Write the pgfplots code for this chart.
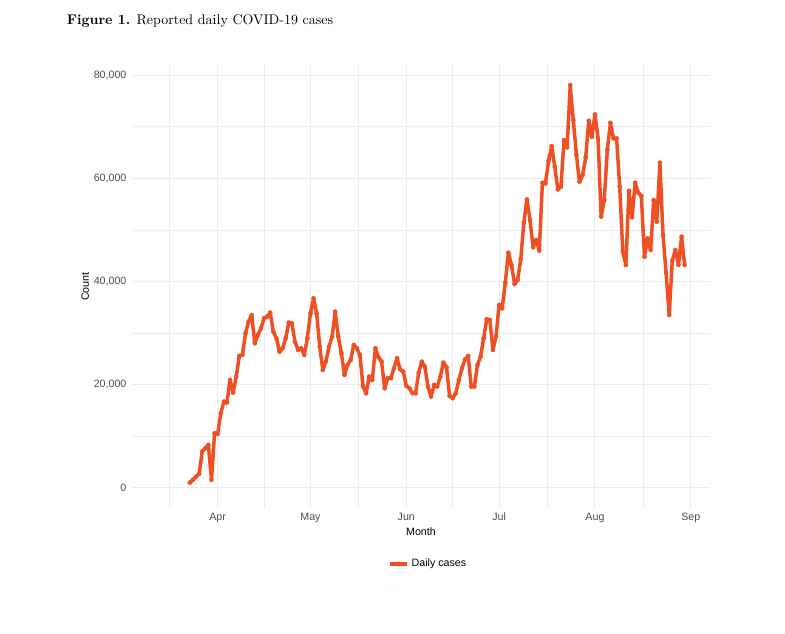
\documentclass[border=0pt]{standalone}
\usepackage{fontspec}
\usepackage{pgfplots}
\pgfplotsset{compat=1.18}
\newfontfamily\chartfont{Liberation Sans}
\definecolor{covid}{RGB}{240,78,35}
\definecolor{gridgrey}{RGB}{235,235,235}
\definecolor{ticktext}{RGB}{77,77,77}

\begin{document}
\begin{tikzpicture}
% page = 785 x 634 px at 0.75pt per px
\useasboundingbox (0,0) rectangle (588.75pt,475.5pt);
\node[anchor=base west, inner sep=0pt, font=\fontsize{10.5}{12}\selectfont]
  at (50pt,456.75pt) {\textbf{Figure 1.} Reported daily COVID-19 cases};

\begin{axis}[
  at={(99pt,94.5pt)}, anchor=south west,
  scale only axis, width=433.5pt, height=332.25pt,
  xmin=63.3, xmax=250.2, ymin=-3900, ymax=81960,
  axis line style={draw=none},
  major tick length=0pt, minor tick length=0pt,
  xtick={91,121,152,182,213,244},
  xticklabels={Apr,May,Jun,Jul,Aug,Sep},
  minor xtick={75.5,106,136.5,167,197.5,228.5},
  ytick={0,20000,40000,60000,80000},
  yticklabels={0,{20,000},{40,000},{60,000},{80,000}},
  minor ytick={10000,30000,50000,70000},
  scaled y ticks=false,
  grid=both,
  major grid style={gridgrey, line width=0.7pt},
  minor grid style={gridgrey, line width=0.4pt},
  ticklabel style={font=\chartfont\fontsize{8}{9.6}\selectfont, text=ticktext},
  xticklabel style={anchor=north, inner sep=0pt, yshift=-3.75pt},
  yticklabel style={anchor=east, inner sep=0pt, xshift=-4pt},
  xlabel={Month}, ylabel={Count},
  label style={font=\chartfont\fontsize{8}{9.6}\selectfont, text=black},
  x label style={at={(axis description cs:0.5,-0.045)}, anchor=north, inner sep=0pt},
  y label style={at={(axis description cs:-0.0738,0.5)}, anchor=south, inner sep=0pt},
  legend style={at={(axis description cs:0.513,-0.126)}, anchor=center,
    draw=none, fill=none, font=\chartfont\fontsize{8}{9.6}\selectfont,
    inner sep=0pt},
  legend image code/.code={%
    \draw[mark repeat=2,mark phase=2,#1] plot coordinates {(0pt,0pt) (6.5pt,0pt) (13pt,0pt)};},
]
\addplot[color=covid, line width=2.6pt, line join=round,
  mark=*, mark size=1.6pt, mark options={solid, fill=covid, draw=covid, line width=0.2pt}]
  table[row sep=\\] {
x y \\
82 1027 \\ 83 1550 \\ 84 2190 \\ 85 2700 \\ 86 7030 \\ 87 7690 \\ 88 8330 \\
89 1550 \\ 90 10600 \\ 91 10460 \\ 92 14470 \\ 93 16720 \\ 94 16530 \\
95 20920 \\ 96 18460 \\ 97 21560 \\ 98 25570 \\ 99 25760 \\ 100 29970 \\
101 32220 \\ 102 33510 \\ 103 28030 \\ 104 29630 \\ 105 30930 \\ 106 32870 \\
107 33190 \\ 108 33960 \\ 109 30280 \\ 110 29000 \\ 111 26400 \\ 112 27060 \\
113 29000 \\ 114 32020 \\ 115 31900 \\ 116 28340 \\ 117 26730 \\ 118 27060 \\
119 25760 \\ 120 29000 \\ 121 33840 \\ 122 36740 \\ 123 33840 \\ 124 27370 \\
125 22860 \\ 126 24470 \\ 127 27370 \\ 128 29310 \\ 129 34150 \\ 130 29310 \\
131 26090 \\ 132 21890 \\ 133 23830 \\ 134 24790 \\ 135 27700 \\ 136 27060 \\
137 25760 \\ 138 19630 \\ 139 18340 \\ 140 21560 \\ 141 20920 \\ 142 27060 \\
143 25310 \\ 144 24470 \\ 145 19310 \\ 146 21250 \\ 147 21250 \\ 148 23180 \\
149 25120 \\ 150 22990 \\ 151 22530 \\ 152 19760 \\ 153 19310 \\ 154 18340 \\
155 18340 \\ 156 22340 \\ 157 24470 \\ 158 23500 \\ 159 19630 \\ 160 17690 \\
161 19950 \\ 162 19630 \\ 163 21560 \\ 164 24280 \\ 165 23380 \\ 166 17820 \\
167 17380 \\ 168 18340 \\ 169 20920 \\ 170 23180 \\ 171 24930 \\ 172 25570 \\
173 19630 \\ 174 19630 \\ 175 23830 \\ 176 25430 \\ 177 29000 \\ 178 32670 \\
179 32540 \\ 180 26730 \\ 181 29310 \\ 182 35450 \\ 183 34800 \\ 184 39770 \\
185 45580 \\ 186 43200 \\ 187 39520 \\ 188 40290 \\ 189 44300 \\ 190 51400 \\
191 55920 \\ 192 51850 \\ 193 46620 \\ 194 48040 \\ 195 45970 \\ 196 59140 \\
197 59020 \\ 198 63410 \\ 199 66240 \\ 200 62240 \\ 201 57850 \\ 202 58360 \\
203 67410 \\ 204 65990 \\ 205 78060 \\ 206 71280 \\ 207 64500 \\ 208 59340 \\
209 60630 \\ 210 64050 \\ 211 71150 \\ 212 68050 \\ 213 72380 \\ 214 67730 \\
215 52560 \\ 216 55790 \\ 217 65470 \\ 218 70760 \\ 219 67730 \\ 220 67730 \\
221 58360 \\ 222 45770 \\ 223 43200 \\ 224 57590 \\ 225 52430 \\ 226 59140 \\
227 57200 \\ 228 56560 \\ 229 44800 \\ 230 48360 \\ 231 46100 \\ 232 55790 \\
233 51590 \\ 234 63020 \\ 235 49010 \\ 236 41710 \\ 237 33510 \\ 238 44030 \\
239 46100 \\ 240 43200 \\ 241 48690 \\ 242 43200 \\
};
\addlegendentry{Daily cases}
\end{axis}
\end{tikzpicture}
\end{document}
